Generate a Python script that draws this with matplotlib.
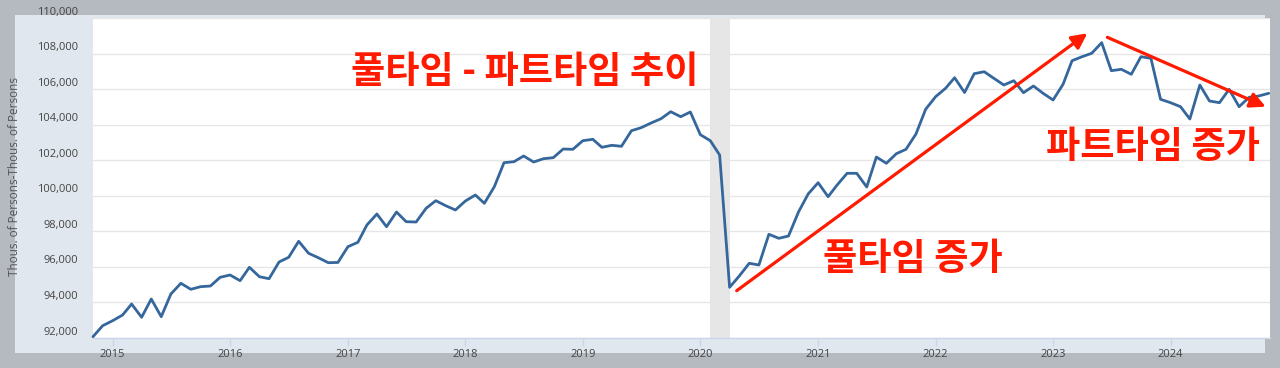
import matplotlib
matplotlib.use("Agg")
import matplotlib.pyplot as plt
from matplotlib.patches import Rectangle
import pandas as pd

# ---------------- data ----------------
start_month = "2014-11-01"
values = [
    92073, 92692, 92973, 93294, 93913, 93164, 94194, 93198, 94475, 95077,
    94739, 94886, 94925, 95414, 95544, 95223, 95977, 95448, 95336, 96275,
    96539, 97439, 96764, 96517, 96236, 96250, 97136, 97383, 98356, 98975,
    98261, 99088, 98542, 98525, 99296, 99723, 99442, 99200, 99706, 100044,
    99577, 100511, 101861, 101917, 102238, 101900, 102086, 102142, 102631, 102614,
    103098, 103177, 102727, 102839, 102783, 103661, 103829, 104094, 104336, 104729,
    104448, 104713, 103436, 103098, 102294, 94852, 95488, 96202, 96106, 97833,
    97608, 97738, 99088, 100100, 100736, 99948, 100606, 101264, 101264, 100494,
    102181, 101827, 102367, 102614, 103475, 104864, 105573, 106046, 106642, 105809,
    106867, 106979, 106608, 106231, 106473, 105798, 106175, 105764, 105388, 106271,
    107598, 107823, 108014, 108611, 107036, 107114, 106833, 107823, 107733, 105427,
    105236, 105011, 104319, 106231, 105331, 105236, 105989, 105011, 105539, 105613,
    105764,
]
dates = pd.date_range(start_month, periods=len(values), freq="MS")
recession = ("2020-02-01", "2020-04-01")
y_ticks = [92000, 94000, 96000, 98000, 100000, 102000, 104000, 106000, 108000, 110000]
x_years = list(range(2015, 2025))
y_label = "Thous. of Persons-Thous. of Persons"
title_text = "풀타임 - 파트타임 추이"
note_full = "풀타임 증가"
note_part = "파트타임 증가"

# ---------------- figure ----------------
W, H = 1280, 368
fig = plt.figure(figsize=(W / 100, H / 100), dpi=100)
fig.patch.set_facecolor("#b5b9c0")

def fx(px):
    return px / W

def fy(py):
    return 1 - py / H

# light panel
fig.patches.append(Rectangle((fx(15), fy(353)), fx(1265 - 15), (353 - 15) / H,
                             transform=fig.transFigure, facecolor="#e1e7ee",
                             edgecolor="none", zorder=-1))

L, R, T, B = 93, 1270, 18, 338
ax = fig.add_axes([fx(L), fy(B), (R - L) / W, (B - T) / H])
ax.set_facecolor("white")

red = "#ff1a00"
line_col = "#35679c"

ax.axvspan(pd.Timestamp(recession[0]), pd.Timestamp(recession[1]),
           color="#e6e6e6", lw=0, zorder=1)

ax.plot(dates, values, color=line_col, lw=2.0, solid_joinstyle="round",
        solid_capstyle="round", zorder=3, clip_on=False)

ax.set_xlim(pd.Timestamp("2014-11-01"), pd.Timestamp("2024-11-05"))
ax.set_ylim(92000, 110000)

ax.set_yticks(y_ticks)
ax.yaxis.grid(True, color="#e6e6e6", lw=1)
ax.set_axisbelow(True)
ax.tick_params(axis="y", length=0, labelleft=False)

for v in y_ticks:
    ax.annotate(f"{v:,}", xy=(0, v), xycoords=("axes fraction", "data"),
                xytext=(-15, 6), textcoords="offset pixels",
                ha="right", va="center", fontsize=8, color="#444444",
                family="Open Sans", annotation_clip=False)

ax.set_xticks([pd.Timestamp(f"{y}-01-01") for y in x_years])
ax.set_xticklabels([str(y) for y in x_years])
ax.tick_params(axis="x", length=6, width=1, color="#ccd6eb", pad=2.2,
               labelsize=8, labelcolor="#444444")
for lab in ax.get_xticklabels():
    lab.set_family("Open Sans")

for s in ["top", "right", "left"]:
    ax.spines[s].set_visible(False)
ax.spines["bottom"].set_color("#ccd6eb")
ax.spines["bottom"].set_linewidth(1)

fig.text(fx(15), fy(177), y_label, rotation=90, ha="center", va="center",
         fontsize=8.5, color="#555555", family="Open Sans")

# annotations
kfont = ["Noto Sans CJK KR", "DejaVu Sans"]
ksize = 26.8
ax.text(0.367, 0.831, title_text, transform=ax.transAxes, ha="center",
        va="center", fontsize=ksize, fontweight="bold", color=red, family=kfont)
ax.text(0.6963, 0.244, note_full, transform=ax.transAxes, ha="center",
        va="center", fontsize=ksize, fontweight="bold", color=red, family=kfont)
ax.text(0.9002, 0.595, note_part, transform=ax.transAxes, ha="center",
        va="center", fontsize=ksize, fontweight="bold", color=red, family=kfont)

arrow_kw = dict(arrowstyle="-|>", color=red, lw=2.3, mutation_scale=23,
                shrinkA=0, shrinkB=0)
ax.annotate("", xy=(0.8448, 0.9522), xytext=(0.5469, 0.1478),
            xycoords="axes fraction", textcoords="axes fraction",
            arrowprops=arrow_kw, annotation_clip=False)
ax.annotate("", xy=(0.9963, 0.7228), xytext=(0.8618, 0.9397),
            xycoords="axes fraction", textcoords="axes fraction",
            arrowprops=arrow_kw, annotation_clip=False)

fig.savefig("out.png", dpi=100, facecolor=fig.get_facecolor())
